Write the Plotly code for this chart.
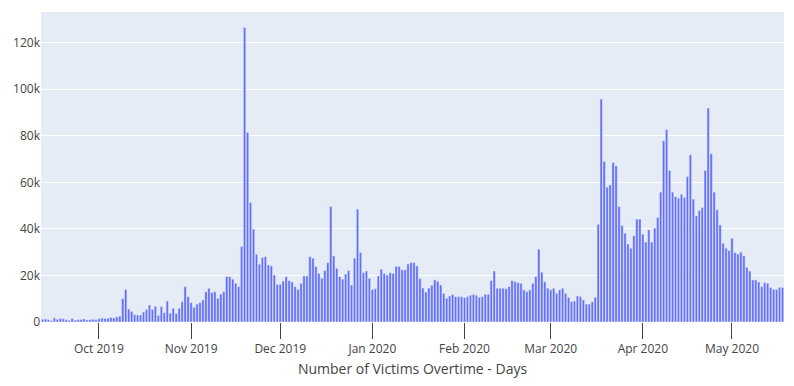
import plotly.graph_objects as go
import pandas as pd

start_date = "2019-09-12"
victims = [
    1200, 1300, 1000, 600, 1800, 1200, 1500, 1400, 1000, 700,
    1500, 800, 1000, 1100, 1300, 900, 1000, 1200, 1000, 1400,
    1700, 1500, 1600, 2000, 1800, 2200, 2500, 10000, 14000, 5600,
    4600, 3200, 3000, 3000, 4300, 5400, 7300, 5400, 6800, 2800,
    6600, 4000, 9000, 3800, 5900, 3700, 5900, 8700, 15200, 10900,
    8300, 6300, 7700, 8300, 9500, 13000, 14500, 12600, 13000, 10200,
    12000, 13000, 19500, 19500, 18400, 16600, 15200, 32400, 126500, 81400,
    51300, 39900, 29100, 24800, 27700, 28100, 24500, 24100, 20200, 16200,
    16200, 17600, 19500, 17800, 17200, 15200, 14000, 16600, 19800, 19800,
    28100, 27400, 23800, 20900, 18800, 22100, 25500, 49600, 28400, 23100,
    19500, 18400, 20600, 22100, 15900, 27400, 48500, 29800, 21200, 21900,
    18800, 14000, 14300, 19800, 22700, 20900, 20100, 21200, 20900, 23900,
    23900, 22400, 22400, 24900, 25500, 25500, 24100, 18600, 14600, 12900,
    14600, 15800, 18100, 17500, 15900, 12300, 10200, 11200, 11800, 10900,
    10900, 10900, 10500, 10900, 11500, 11900, 11500, 10600, 10900, 11900,
    11900, 17800, 21900, 14500, 14500, 14500, 14300, 15200, 17800, 17300,
    16900, 16600, 13800, 13000, 13800, 16600, 19500, 31300, 21400, 17300,
    14500, 13800, 14500, 12300, 13800, 14500, 12300, 10600, 8700, 9000,
    11200, 10900, 9500, 7700, 7700, 8700, 10600, 42000, 95800, 69000,
    57900, 58900, 68500, 67100, 49600, 41400, 38100, 33500, 31700, 37000,
    44200, 44200, 37700, 34300, 39600, 34300, 40300, 44900, 55800, 77800,
    82600, 65100, 55800, 53900, 53200, 54900, 53500, 62500, 71800, 52800,
    45600, 47900, 49200, 65100, 91900, 72300, 55800, 48200, 41700, 33800,
    31700, 30700, 36000, 29800, 29200, 30000, 28400, 23500, 21900, 18100,
    18100, 17200, 15200, 16900, 16600, 14800, 14000, 14000, 14900, 14800,
]
dates = pd.date_range(start_date, periods=len(victims), freq="D")

fig = go.Figure(go.Bar(x=dates, y=victims))
fig.update_layout(
    template="plotly",
    width=778,
    height=370,
    margin=dict(l=33, r=2, t=4, b=56, autoexpand=False),
    font=dict(family="Open Sans", size=12, color="#444"),
    xaxis=dict(
        title=dict(text="Number of Victims Overtime - Days", standoff=14),
        dtick="M1",
        tickformat="%b %Y",
        ticks="outside",
        ticklen=16,
        tickcolor="#444",
        automargin=True,
    ),
    yaxis=dict(automargin=False),
    showlegend=False,
)
fig.write_html("out.html")
